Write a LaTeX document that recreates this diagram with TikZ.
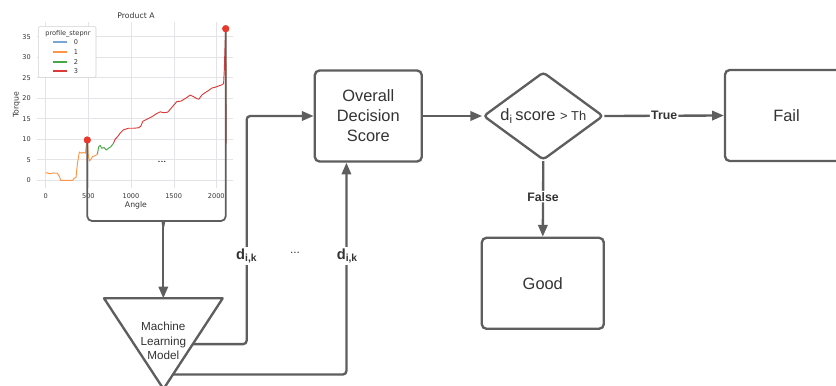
\documentclass[tikz,border=0pt]{standalone}
\usepackage{fontspec}
\setmainfont{Liberation Sans}
\newfontfamily\plotfont{DejaVu Sans}
\usetikzlibrary{positioning,arrows.meta,shapes.geometric,calc}
\definecolor{linegray}{HTML}{5E5E5E}
\definecolor{textgray}{HTML}{333333}
\definecolor{gridgray}{HTML}{E4E4E8}
\definecolor{stepblue}{HTML}{7AA6D6}
\definecolor{steporange}{HTML}{FF9447}
\definecolor{stepgreen}{HTML}{45A845}
\definecolor{stepred}{HTML}{DB3A36}
\definecolor{peakred}{HTML}{E8392B}
\tikzset{
  flowarrow/.style={-{Triangle[length=10pt,width=8pt]}, line width=2pt, draw=linegray, rounded corners=3pt},
  flowline/.style={line width=2pt, draw=linegray, line join=round},
  braceline/.style={line width=1.5pt, draw=linegray, rounded corners=4pt},
  procbox/.style={draw=linegray, line width=2pt, rounded corners=4pt, fill=white, minimum width=3.21cm, minimum height=2.73cm, align=center, text=textgray, font=\fontsize{14}{17}\selectfont},
  decisionnode/.style={draw=linegray, line width=2pt, diamond, aspect=1.36, rounded corners=3pt, fill=white, minimum width=3.6cm, minimum height=2.64cm, inner sep=0pt, text=textgray},
  edgelabel/.style={fill=white, inner sep=1pt, text=textgray, font=\fontsize{10.5}{12}\selectfont\bfseries},
  dlabel/.style={fill=white, inner sep=1pt, text=textgray, font=\fontsize{12.5}{14}\selectfont\bfseries},
  ticklabel/.style={font=\plotfont\fontsize{5.6}{6.5}\selectfont, text=textgray, inner sep=0pt},
  axislabel/.style={font=\plotfont\fontsize{6.6}{8}\selectfont, text=textgray, inner sep=0pt},
  torqueline/.style={line width=0.8pt, line join=round},
  legline/.style={line width=1.3pt},
  peakdot/.style={circle, fill=peakred, inner sep=0pt, minimum size=0.21cm}
}

\begin{document}
\begin{tikzpicture}[x=0.03cm, y=-0.03cm]
  \useasboundingbox (0,0) rectangle (836,385);
  \clip (0,0) rectangle (836,385);

  % torque plot
  \node[axislabel] (title) at (136,16) {Product A};
  \begin{scope}[shift={(45.7,180.3)}, x=0.002559cm, y=0.123cm]
    \foreach \a in {0,500,...,2000}
      \draw[gridgray, line width=0.6pt] (\a,-1.9) -- (\a,38.6);
    \foreach \t in {0,5,...,35}
      \draw[gridgray, line width=0.6pt] (-102,\t) -- (2196,\t);
    \draw[torqueline, steporange] plot coordinates {(0,1.87) (51,1.6) (90,1.8) (137,1.7) (160,0.9) (176,0) (316,0) (332,0.5) (355,0.7) (371,4.1) (394,6.9) (418,6.6) (441,6.8) (465,6.6) (480,9.4) (488,9.8) (500,5.8) (512,4.7) (527,5.1) (551,5.8) (578,6) (605,6.4)};
    \draw[torqueline, stepgreen] plot coordinates {(605,6.4) (621,8.2) (637,8.5) (656,7.8) (684,8) (707,7.4) (734,7.8) (762,8.2) (793,9)};
    \draw[torqueline, stepred] plot coordinates {(793,9) (812,10) (840,10.6) (871,11.5) (910,12.3) (969,12.7) (1027,12.7) (1086,12.8) (1113,13.2) (1137,14.4) (1184,14.9) (1242,15.5) (1301,16.3) (1340,16.7) (1379,16.5) (1426,16.6) (1457,17.3) (1488,18.1) (1535,19.2) (1582,19.3) (1613,19.7) (1652,20.2) (1691,20.8) (1730,20.4) (1769,19.9) (1793,19.8) (1828,20.8) (1867,21.4) (1906,21.9) (1945,22.5) (1984,22.7) (2023,23) (2062,23.3) (2082,23.6) (2090,26.9) (2105,37) (2113,9)};
  \end{scope}
  \foreach \t in {0,5,...,35}
    \node[ticklabel, anchor=east] (ytick\t) at (31,{180.3-4.1*\t}) {\t};
  \foreach \a in {0,500,1000,1500,2000}
    \node[ticklabel] (xtick\a) at ({45.7+0.0853*\a},196) {\a};
  \node[axislabel] (anglelbl) at (136,205.5) {Angle};
  \node[axislabel, rotate=90] (torquelbl) at (16.7,105) {Torque};
  \node[draw=gridgray!80!gray, fill=white, rounded corners=1pt, line width=0.5pt, minimum width=1.73cm, minimum height=1.52cm, inner sep=0pt] (legend) at (67.2,52) {};
  \node[ticklabel] (legtitle) at (68,33.3) {profile\_stepnr};
  \draw[legline, stepblue] (53,42) -- (67,42);
  \draw[legline, steporange] (53,52) -- (67,52);
  \draw[legline, stepgreen] (53,62) -- (67,62);
  \draw[legline, stepred] (53,71) -- (67,71);
  \node[ticklabel] (leg0) at (76,42) {0};
  \node[ticklabel] (leg1) at (76,52) {1};
  \node[ticklabel] (leg2) at (76,62) {2};
  \node[ticklabel] (leg3) at (76,71) {3};
  \node[font=\fontsize{9}{10}\selectfont] (plotdots) at (162,162) {...};

  % peaks and brace
  \node[peakdot] (peakA) at (87.3,140) {};
  \node[peakdot] (peakB) at (225.7,28.7) {};
  \coordinate (braceTip) at (163.3,227);
  \draw[braceline] (peakA.center) |- (158.3,221) to[out=0,in=90] (braceTip);
  \draw[braceline] (peakB.center) |- (168.3,221) to[out=180,in=90] (braceTip);
  \node[peakdot] at (peakA) {};
  \node[peakdot] at (peakB) {};

  % machine learning model
  \coordinate (mlTL) at (104,298.3);
  \coordinate (mlTR) at (222.7,298.3);
  \coordinate (mlTip) at (163.5,389);
  \coordinate (mlTop) at (163.3,298.3);
  \draw[flowline] (mlTL) -- (mlTR) -- (mlTip) -- cycle;
  \node[align=center, text=textgray, font=\fontsize{10}{12.5}\selectfont] (ml) at (163.3,341) {Machine\\Learning\\Model};
  \draw[flowarrow] (braceTip) -- (mlTop);
  \coordinate (mlOutA) at ($(mlTR)!0.505!(mlTip)$);
  \coordinate (mlOutB) at ($(mlTR)!0.84!(mlTip)$);

  % decision flow
  \node[procbox] (overall) at (368.3,116) {Overall\\Decision\\Score};
  \node[decisionnode] (check) at (543.3,116) {\fontsize{14}{17}\selectfont d\textsubscript{i}\,score {\fontsize{11}{13}\selectfont > Th}};
  \node[procbox, minimum width=3.69cm] (fail) at (786.5,115.5) {Fail};
  \node[procbox, minimum width=3.66cm] (good) at (542.8,283.3) {Good};
  \coordinate (bendA) at (246.7,116);
  \coordinate (scoreIn) at ($(overall.south west)!0.3!(overall.south east)$);

  \draw[flowarrow] (mlOutA) -| (bendA) -- (overall.west);
  \draw[flowarrow] (mlOutB) -| (scoreIn);
  \node[dlabel] (dA) at (246.7,256) {d\textsubscript{i,k}};
  \node[dlabel] (dB) at (347.3,256) {d\textsubscript{i,k}};
  \node[text=textgray, font=\fontsize{10}{12}\selectfont] (dmore) at (295,253) {...};

  \draw[flowarrow] (overall.east) -- (check.west);
  \draw[flowarrow] (check.east) -- node[edgelabel] (truelbl) {True} (fail.west);
  \draw[flowarrow] (check.south) -- node[edgelabel, pos=0.47] (falselbl) {False} (good.north);
\end{tikzpicture}
\end{document}
